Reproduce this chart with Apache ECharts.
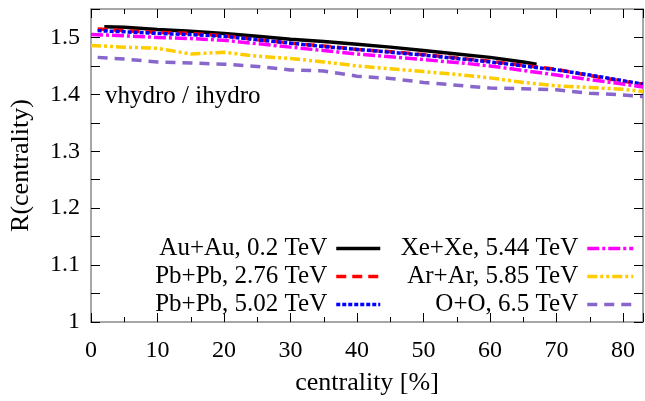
<!DOCTYPE html>
<html>
<head>
<meta charset="utf-8">
<script src="https://cdn.jsdelivr.net/npm/echarts@6/dist/echarts.min.js"></script>
<style>
  html, body { margin: 0; padding: 0; background: #fff; }
  #chart { width: 645px; height: 401px; }
</style>
</head>
<body>
<div id="chart"></div>
<script>
// centrality values (%)
var xAuAu = [2, 5, 10, 15, 20, 25, 30, 35, 40, 45, 50, 55, 60, 65, 67]
var xPb = [1, 5, 10, 15, 20, 25, 30, 35, 40, 45, 50, 55, 60, 65, 70, 75, 80, 83]
var xAll = [0, 5, 10, 15, 20, 25, 30, 35, 40, 45, 50, 55, 60, 65, 70, 75, 80, 83]
var xOO = [1, 5, 10, 15, 20, 25, 30, 35, 40, 45, 50, 55, 60, 65, 70, 75, 80, 83]

// R(centrality) for each system
var auAu02 = [1.519, 1.518, 1.514, 1.511, 1.507, 1.502, 1.497, 1.493, 1.488, 1.483, 1.477, 1.471, 1.465, 1.457, 1.453]
var pbPb276 = [1.515, 1.512, 1.509, 1.507, 1.503, 1.496, 1.490, 1.485, 1.479, 1.475, 1.470, 1.464, 1.458, 1.451, 1.444, 1.433, 1.423, 1.418]
var pbPb502 = [1.512, 1.510, 1.507, 1.505, 1.502, 1.496, 1.490, 1.484, 1.479, 1.474, 1.469, 1.463, 1.457, 1.450, 1.443, 1.434, 1.424, 1.418]
var xeXe544 = [1.505, 1.503, 1.500, 1.498, 1.495, 1.489, 1.483, 1.477, 1.471, 1.466, 1.461, 1.456, 1.450, 1.442, 1.434, 1.426, 1.418, 1.413]
var arAr585 = [1.486, 1.483, 1.481, 1.471, 1.474, 1.467, 1.463, 1.457, 1.450, 1.445, 1.440, 1.435, 1.429, 1.421, 1.415, 1.412, 1.409, 1.405]
var oO65 = [1.465, 1.462, 1.457, 1.455, 1.453, 1.449, 1.443, 1.441, 1.432, 1.428, 1.421, 1.416, 1.411, 1.410, 1.408, 1.402, 1.399, 1.396]

var names = ['Au+Au, 0.2 TeV', 'Pb+Pb, 2.76 TeV', 'Pb+Pb, 5.02 TeV', 'Xe+Xe, 5.44 TeV', 'Ar+Ar, 5.85 TeV', 'O+O, 6.5 TeV']

function pairs(xs, ys) {
  return xs.map(function (x, i) { return [x, ys[i]] })
}

var font = 'Liberation Serif'

function line(name, xs, ys, color, dash) {
  return {
    name: name,
    type: 'line',
    showSymbol: false,
    symbol: 'none',
    animation: false,
    lineStyle: { color: color, width: 3.5, type: dash },
    itemStyle: { color: color },
    data: pairs(xs, ys)
  }
}

var chart = echarts.init(document.getElementById('chart'))

var xBase = {
  type: 'value', min: 0, max: 83, interval: 10,
  axisLine: { show: true, onZero: false, lineStyle: { color: '#8a8a8a', width: 1.5 } },
  axisTick: { inside: true, length: 9, lineStyle: { color: '#000' } },
  minorTick: { show: true, splitNumber: 2, length: 5, lineStyle: { color: '#000' } },
  splitLine: { show: false }
}
var yBase = {
  type: 'value', min: 1, max: 1.55, interval: 0.1,
  axisLine: { show: true, onZero: false, lineStyle: { color: '#8a8a8a', width: 1.5 } },
  axisTick: { inside: true, length: 9, lineStyle: { color: '#000' } },
  minorTick: { show: true, splitNumber: 2, length: 9, lineStyle: { color: '#000' } },
  splitLine: { show: false }
}

var legendBase = {
  orient: 'vertical', align: 'right', top: 231,
  itemHeight: 14, itemGap: 3,
  itemStyle: { opacity: 0 },
  lineStyle: { width: 3.5 },
  textStyle: { fontFamily: font, fontSize: 25, color: '#000', padding: [0, 4, 0, 0] }
}

chart.setOption({
  backgroundColor: '#fff',
  grid: { left: 85, right: 2, top: 9, bottom: 77 },
  xAxis: [
    Object.assign({}, xBase, {
      position: 'bottom',
      name: 'centrality [%]', nameLocation: 'middle', nameGap: 48,
      nameTextStyle: { fontFamily: font, fontSize: 26, color: '#000' },
      axisLabel: { fontFamily: font, fontSize: 24, color: '#000', margin: 17, showMaxLabel: false }
    }),
    Object.assign({}, xBase, { position: 'top', axisLabel: { show: false } })
  ],
  yAxis: [
    Object.assign({}, yBase, {
      position: 'left',
      name: 'R(centrality)', nameLocation: 'middle', nameGap: 57,
      nameTextStyle: { fontFamily: font, fontSize: 26, color: '#000' },
      axisLabel: { fontFamily: font, fontSize: 24, color: '#000', margin: 11, showMaxLabel: false,
        formatter: function (v) { return String(Math.round(v * 10) / 10) } }
    }),
    Object.assign({}, yBase, { position: 'right', axisLabel: { show: false } })
  ],
  legend: [
    Object.assign({}, legendBase, { data: names.slice(0, 3), right: 258, itemWidth: 44 }),
    Object.assign({}, legendBase, { data: names.slice(3), right: 5, itemWidth: 46 })
  ],
  graphic: [{
    type: 'text', left: 105, top: 84,
    style: { text: 'vhydro / ihydro', fontFamily: font, fontSize: 25, fill: '#000' }
  }],
  series: [
    line(names[0], xAuAu, auAu02, '#000000', 'solid'),
    line(names[1], xPb, pbPb276, '#ff0000', [10, 6]),
    line(names[2], xPb, pbPb502, '#0000ff', [4, 2]),
    line(names[3], xAll, xeXe544, '#ff00ff', [12, 3, 3, 3]),
    line(names[4], xAll, arAr585, '#ffcc00', [10, 3, 3, 3, 3, 3]),
    line(names[5], xOO, oO65, '#8866cc', [10, 7])
  ]
})
</script>
</body>
</html>
